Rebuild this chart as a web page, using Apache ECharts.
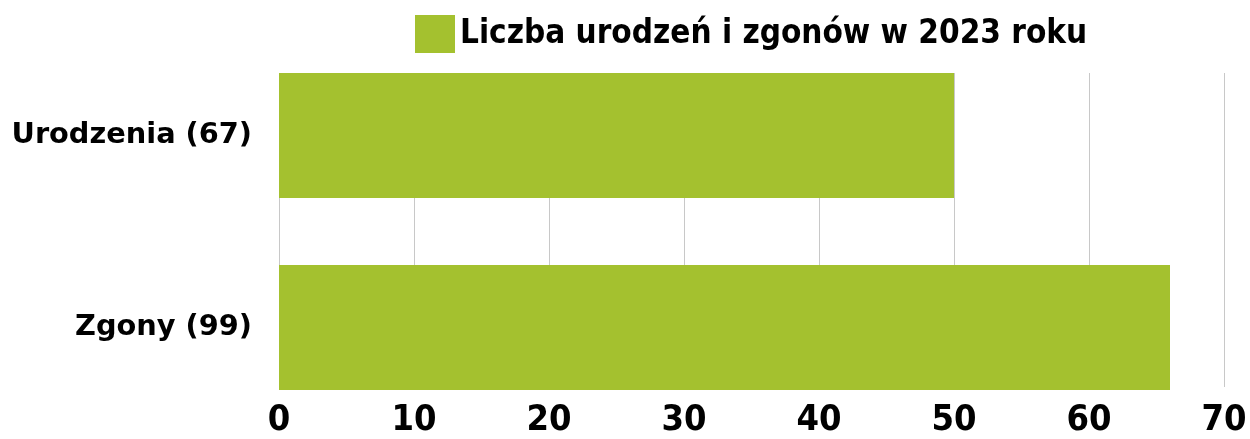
<!DOCTYPE html>
<html>
<head>
<meta charset="utf-8">
<script src="https://cdn.jsdelivr.net/npm/echarts@6/dist/echarts.min.js"></script>
<style>
  html, body { margin: 0; padding: 0; background: #fff; }
  #main { width: 1250px; height: 439px; }
</style>
</head>
<body>
<div id="main"></div>
<script>
// dane z wykresu
const categories = ['Urodzenia (67)', 'Zgony (99)'];
const values = [50, 66];
const seriesName = 'Liczba urodzeń i zgonów w 2023 roku';
const xTicks = [0, 10, 20, 30, 40, 50, 60, 70];

const chart = echarts.init(document.getElementById('main'));

const green = '#a4c12f';
const condFont = '"DejaVu Sans Condensed", "DejaVu Sans", sans-serif';

chart.setOption({
    animation: false,
    legend: {
        left: 410,
        top: 10,
        itemWidth: 40,
        itemHeight: 38,
        itemGap: 10,
        icon: 'rect',
        textStyle: { fontSize: 33, fontWeight: 'bold', color: '#000', fontFamily: condFont },
        data: [seriesName]
    },
    grid: [
        // siatka dla słupków (pasma rozszerzone, żeby słupki dotykały krawędzi)
        { left: 279, right: 26, top: 39.5, bottom: 15.5, containLabel: false },
        // siatka dla linii pionowych i podpisów osi X
        { left: 279, right: 26, top: 73, bottom: 49, containLabel: false }
    ],
    xAxis: [
        {
            gridIndex: 0, type: 'value', min: xTicks[0], max: xTicks[xTicks.length - 1], interval: 10,
            show: false
        },
        {
            gridIndex: 1, type: 'value', min: xTicks[0], max: xTicks[xTicks.length - 1], interval: 10,
            axisLine: { show: false }, axisTick: { show: false },
            axisLabel: { fontSize: 36, fontWeight: 'bold', color: '#000', fontFamily: condFont, margin: 16 },
            splitLine: { show: true, lineStyle: { color: '#c8c8c8', width: 1 } }
        }
    ],
    yAxis: [
        {
            gridIndex: 0, type: 'category', data: categories, inverse: true,
            axisLine: { show: false }, axisTick: { show: false },
            axisLabel: { fontSize: 28.8, fontWeight: 'bold', color: '#000', fontFamily: '"DejaVu Sans", sans-serif', margin: 27 }
        },
        {
            gridIndex: 1, type: 'category', data: categories, show: false
        }
    ],
    series: [{
        name: seriesName,
        type: 'bar',
        xAxisIndex: 0,
        yAxisIndex: 0,
        data: values,
        barWidth: 125,
        itemStyle: { color: green },
        z: 3
    }]
});
</script>
</body>
</html>
